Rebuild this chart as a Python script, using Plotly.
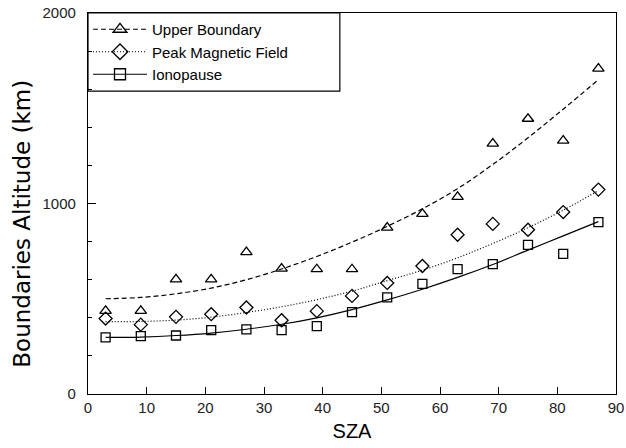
import plotly.graph_objects as go

# ---- data ----
sza = [3, 9, 15, 21, 27, 33, 39, 45, 51, 57, 63, 69, 75, 81, 87]

upper_pts = [436, 436, 602, 602, 745, 658, 655, 655, 873, 946, 1035, 1314, 1445, 1330, 1708]
peak_pts = [396, 364, 405, 419, 454, 387, 435, 515, 583, 672, 836, 893, 862, 955, 1073]
iono_pts = [297, 304, 307, 335, 339, 335, 356, 430, 507, 578, 656, 682, 783, 736, 902]

upper_fit = [500, 507, 526, 556, 600, 656, 722, 797, 880, 972, 1078, 1205, 1345, 1495, 1650]
peak_fit = [380, 381, 388, 403, 428, 458, 495, 540, 595, 650, 715, 790, 873, 965, 1068]
iono_fit = [297, 299, 307, 320, 340, 366, 400, 443, 494, 550, 612, 680, 755, 830, 905]

names = ["Upper Boundary", "Peak Magnetic Field", "Ionopause"]
symbols = ["triangle-up-open", "diamond-open", "square-open"]
dashes = ["5px,3px", "1px,2px", "solid"]
sizes = [10, 10, 9]

fig = go.Figure()

for pts, fit, nm, sym, dsh, sz in zip(
    [upper_pts, peak_pts, iono_pts], [upper_fit, peak_fit, iono_fit],
    names, symbols, dashes, sizes):
    fig.add_trace(go.Scatter(x=sza, y=fit, mode="lines", line=dict(color="black", width=1.2, dash=dsh, shape="spline"),
                             showlegend=False, hoverinfo="skip"))
    fig.add_trace(go.Scatter(x=sza, y=pts, mode="markers",
                             marker=dict(symbol=sym, size=sz, color="black", line=dict(width=1.3, color="black")),
                             showlegend=False))
    # legend entry
    fig.add_trace(go.Scatter(x=[None], y=[None], mode="lines+markers", name=nm,
                             line=dict(color="black", width=1.2, dash=dsh),
                             marker=dict(symbol=sym, size=sz + 2, color="black", line=dict(width=1.3, color="black"))))

# legend frame
fig.add_shape(type="rect", xref="paper", yref="paper", x0=0, x1=0.477, y0=0.795, y1=1,
              line=dict(color="black", width=1.2), fillcolor="white", layer="below")

fig.add_annotation(text="Boundaries Altitude (km)", xref="paper", yref="paper", x=0, y=0.447,
                   xanchor="center", yanchor="middle", xshift=-66, textangle=-90, showarrow=False,
                   font=dict(family="DejaVu Sans", size=23, color="black"))

fig.update_layout(
    width=626, height=448,
    margin=dict(l=88, r=10, t=13, b=54, autoexpand=False),
    paper_bgcolor="white", plot_bgcolor="white",
    font=dict(family="Arial", color="black"),
    showlegend=True,
    legend=dict(x=0.0, y=1.0, xanchor="left", yanchor="top", bgcolor="rgba(0,0,0,0)",
                borderwidth=0, itemwidth=54, font=dict(family="Arial", size=15, color="black"),
                tracegroupgap=0),
    xaxis=dict(range=[0, 90], dtick=10, tick0=0, ticks="inside", ticklen=7, tickwidth=1.2,
               tickcolor="black", showline=True, linecolor="black", linewidth=1.2, mirror=True,
               showgrid=False, zeroline=False, tickfont=dict(size=15, color="#222"), automargin=False,
               title=dict(text="SZA", font=dict(family="Arial", size=20, color="black"), standoff=8)),
    yaxis=dict(range=[0, 2000], tickvals=[0, 1000, 2000], ticks="inside", ticklen=8, tickwidth=1.2,
               tickcolor="black", showline=True, linecolor="black", linewidth=1.2, mirror=True,
               showgrid=False, zeroline=False, tickfont=dict(size=15, color="#222"), automargin=False,
               ticklabelstandoff=8,
               minor=dict(dtick=200, ticks="inside", ticklen=4, tickcolor="black", showgrid=False)),
)

fig.write_html("out.html")
